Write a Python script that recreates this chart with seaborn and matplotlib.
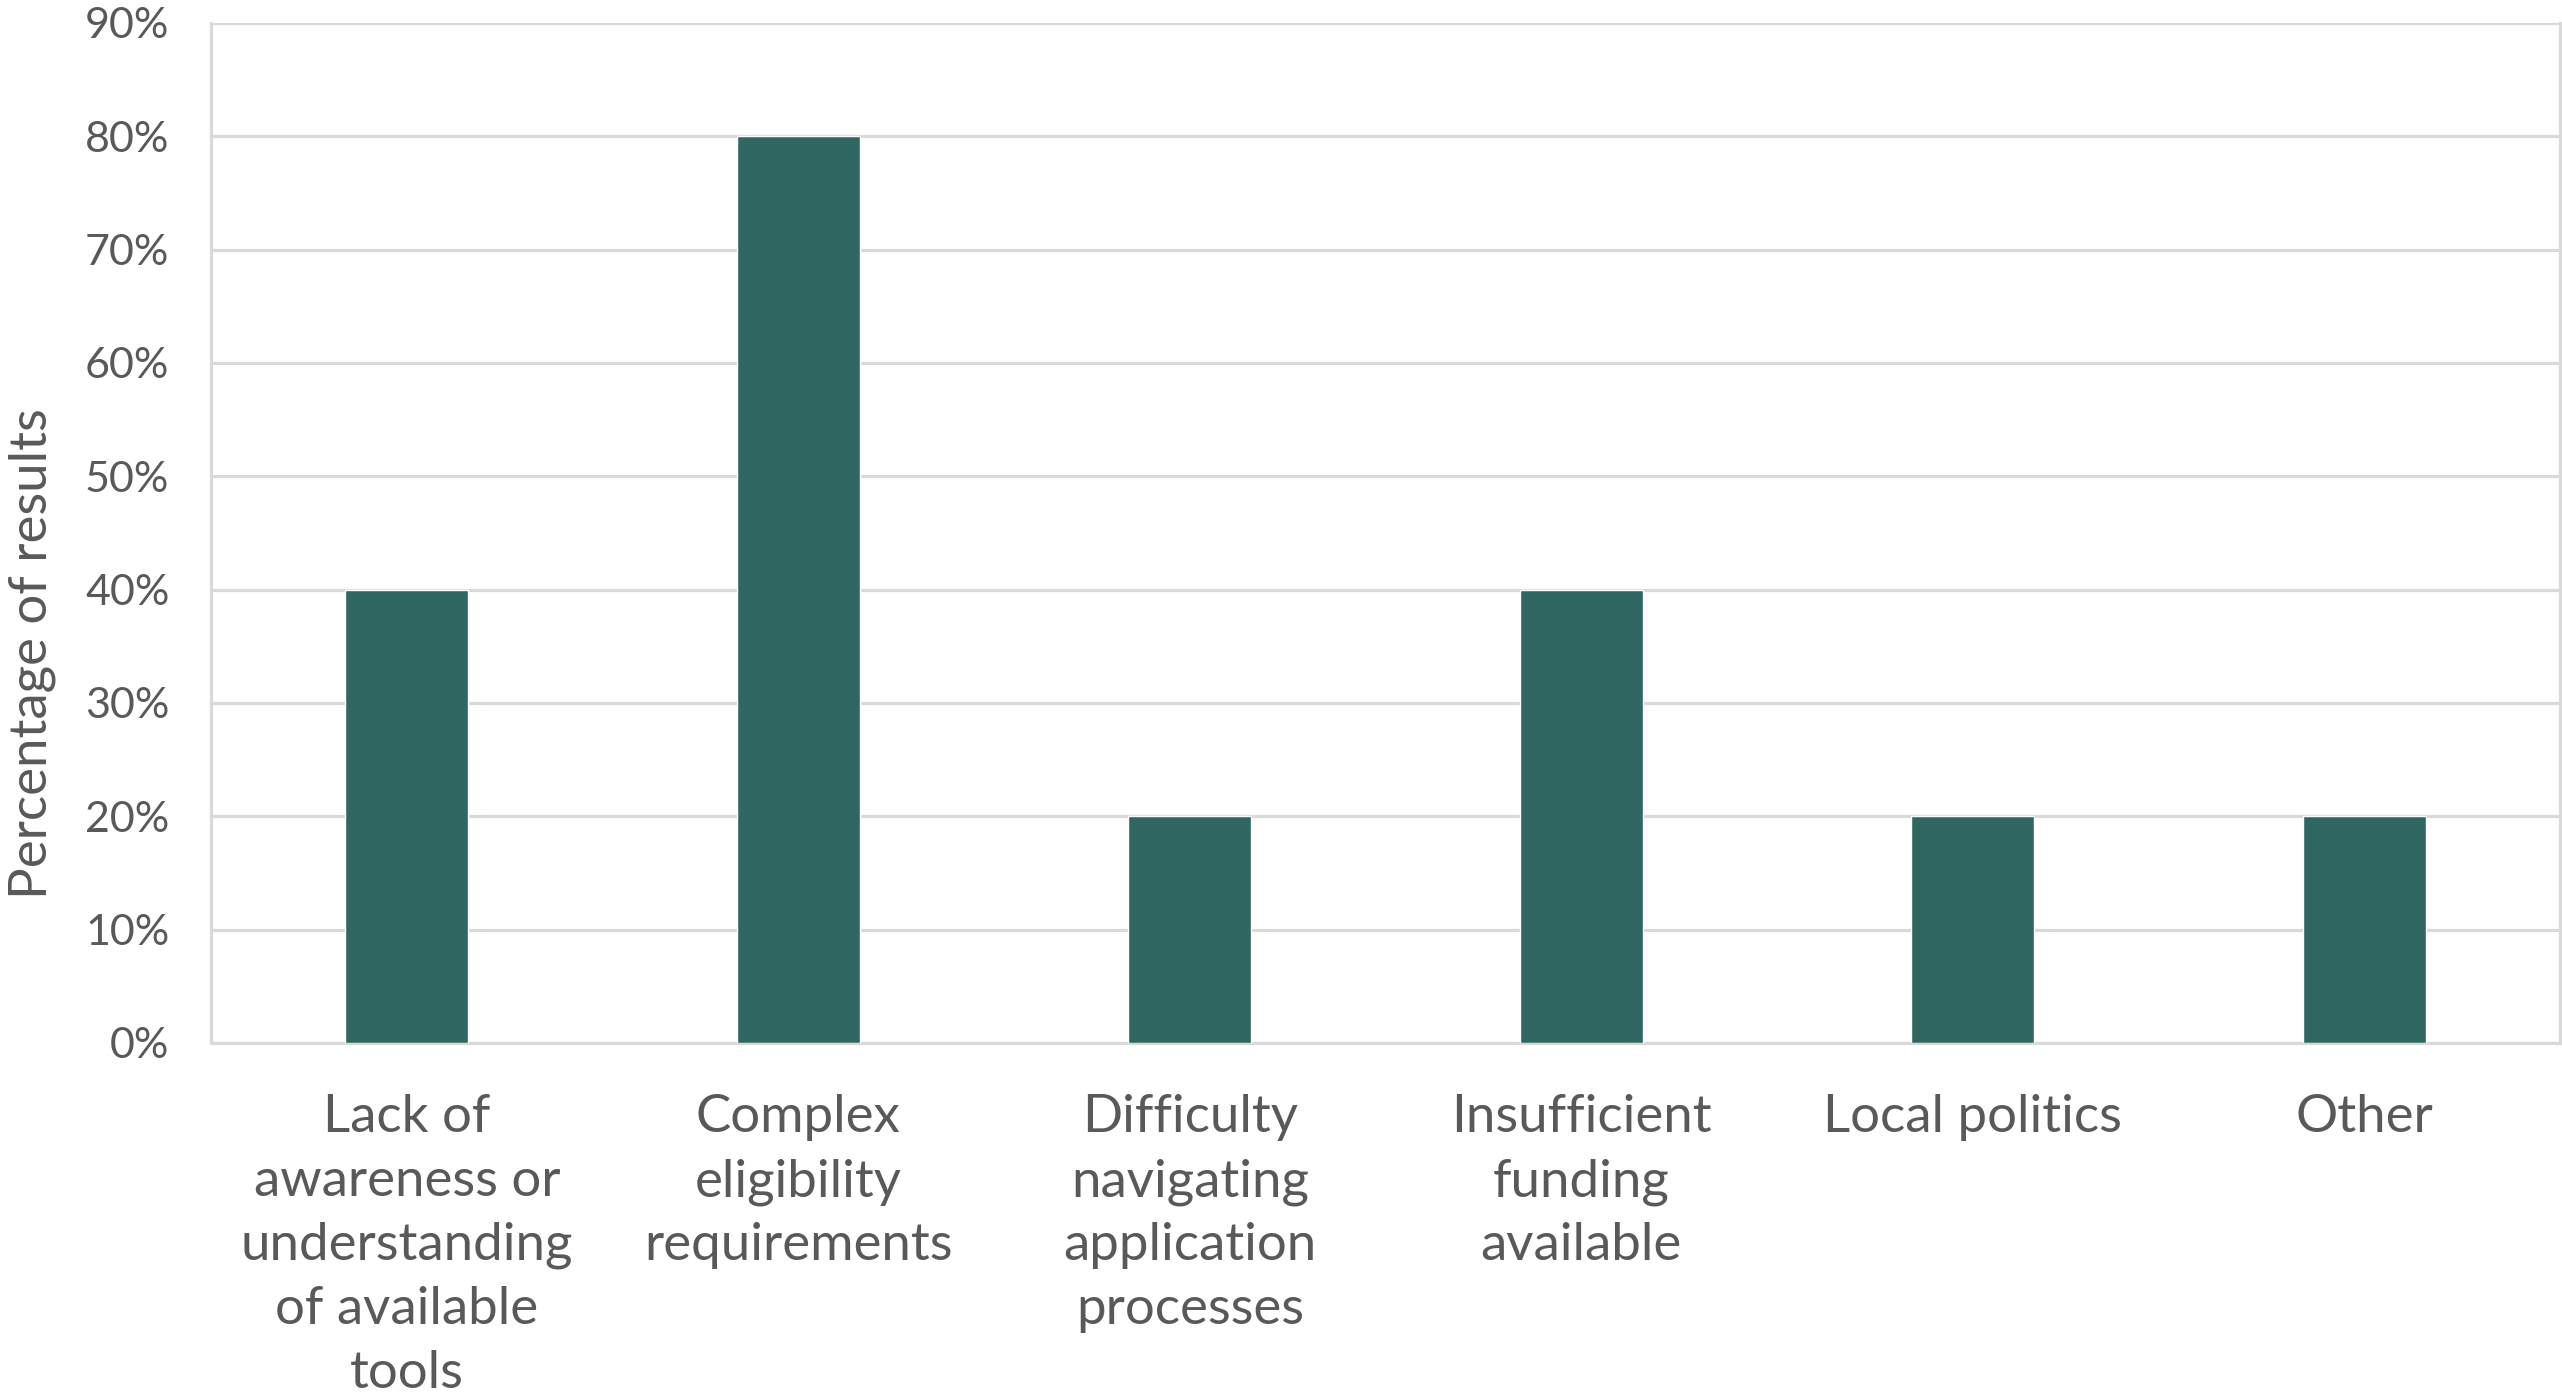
import matplotlib
matplotlib.use("Agg")
import matplotlib.pyplot as plt
import seaborn as sns
import pandas as pd
from matplotlib.ticker import PercentFormatter, MultipleLocator

categories = [
    "Lack of\nawareness or\nunderstanding\nof available\ntools",
    "Complex\neligibility\nrequirements",
    "Difficulty\nnavigating\napplication\nprocesses",
    "Insufficient\nfunding\navailable",
    "Local politics",
    "Other",
]
values = [40, 80, 20, 40, 20, 20]
ylabel = "Percentage of results"

BAR = "#316763"
GRID = "#d9d9d9"
TEXT = "#595959"

sns.set_theme(style="white")
plt.rcParams["font.family"] = ["Lato", "DejaVu Sans"]

df = pd.DataFrame({"cat": categories, "val": values})

fig = plt.figure(figsize=(25.62, 13.94), dpi=100)
ax = fig.add_axes([211 / 2562, 1 - 1043 / 1394, (2560 - 211) / 2562, (1043 - 23) / 1394])

sns.barplot(data=df, x="cat", y="val", color=BAR, width=0.314, saturation=1, ax=ax, zorder=3)

ax.set_ylim(0, 90)
ax.yaxis.set_major_locator(MultipleLocator(10))
ax.yaxis.set_major_formatter(PercentFormatter(decimals=0))
ax.set_xlim(-0.5, len(categories) - 0.5)

ax.grid(axis="y", color=GRID, linewidth=2.3, zorder=0)
ax.set_axisbelow(True)
for side in ["left", "right", "bottom"]:
    ax.spines[side].set_visible(True)
    ax.spines[side].set_color(GRID)
    ax.spines[side].set_linewidth(2.3)
ax.spines["top"].set_visible(False)

ax.tick_params(axis="y", labelsize=31, labelcolor=TEXT, length=0, pad=30)
ax.tick_params(axis="x", labelsize=38, labelcolor=TEXT, length=0, pad=37)
for lab in ax.get_xticklabels():
    lab.set_linespacing(1.44)
ax.set_xlabel("")
ax.set_ylabel(ylabel, fontsize=38, color=TEXT)
ax.yaxis.set_label_coords(-0.066, 0.382)

fig.savefig("out.png", dpi=100, facecolor="white")
